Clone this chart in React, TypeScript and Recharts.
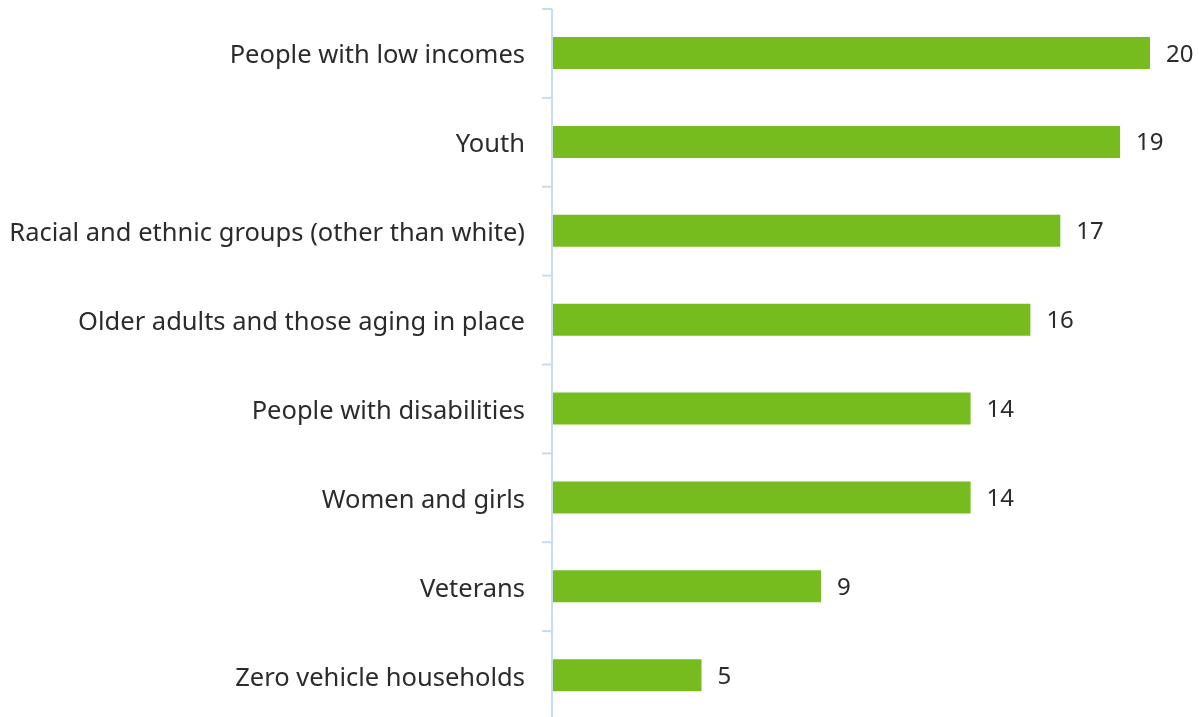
import React from 'react';
import { BarChart, Bar, XAxis, YAxis, LabelList } from 'recharts';

const categories = [
  'People with low incomes',
  'Youth',
  'Racial and ethnic groups (other than white)',
  'Older adults and those aging in place',
  'People with disabilities',
  'Women and girls',
  'Veterans',
  'Zero vehicle households',
];
const values = [20, 19, 17, 16, 14, 14, 9, 5];

const data = categories.map((name, i) => ({ name, value: values[i] }));

const CHART_W = 1191;
const CHART_H = 740;
const MARGIN = { top: 1, right: 49, bottom: 28, left: 0 };
const PLOT_H = CHART_H - MARGIN.top - MARGIN.bottom;
const HALF_BAND = PLOT_H / categories.length / 2;
const AXIS_COLOR = '#C5DDF2';
const TEXT_COLOR = '#2b2b2b';
const FONT = '"Noto Sans", "Open Sans", sans-serif';
const FONT_SIZE = 25.5;

const CustomTick = (props: any) => {
  const { x, y, payload, index } = props;
  const lx1 = x + 17;
  const lx2 = x + 27;
  return (
    <g>
      <text x={x} y={y} textAnchor="end" dominantBaseline="central" fill={TEXT_COLOR} fontSize={FONT_SIZE} fontFamily={FONT}>
        {payload.value}
      </text>
      <line x1={lx1} x2={lx2} y1={y - HALF_BAND} y2={y - HALF_BAND} stroke={AXIS_COLOR} strokeWidth={2} />
      {index === categories.length - 1 && (
        <line x1={lx1} x2={lx2} y1={y + HALF_BAND} y2={y + HALF_BAND} stroke={AXIS_COLOR} strokeWidth={2} />
      )}
    </g>
  );
};

export default function App() {
  return (
    <div style={{ position: 'fixed', left: 8, top: 8, width: CHART_W, height: CHART_H }}>
      <BarChart width={CHART_W} height={CHART_H} data={data} layout="vertical" margin={MARGIN} style={{ overflow: 'visible' }}>
        <XAxis type="number" domain={[0, 20]} hide />
        <YAxis
          type="category"
          dataKey="name"
          width={544}
          axisLine={{ stroke: AXIS_COLOR, strokeWidth: 2 }}
          tickLine={false}
          tickSize={10}
          tickMargin={17}
          tick={<CustomTick />}
          interval={0}
        />
        <Bar dataKey="value" fill="#77BC1F" barSize={32} isAnimationActive={false}>
          <LabelList dataKey="value" position="right" offset={16} fill={TEXT_COLOR} fontSize={24} fontFamily={FONT} />
        </Bar>
      </BarChart>
    </div>
  );
}
